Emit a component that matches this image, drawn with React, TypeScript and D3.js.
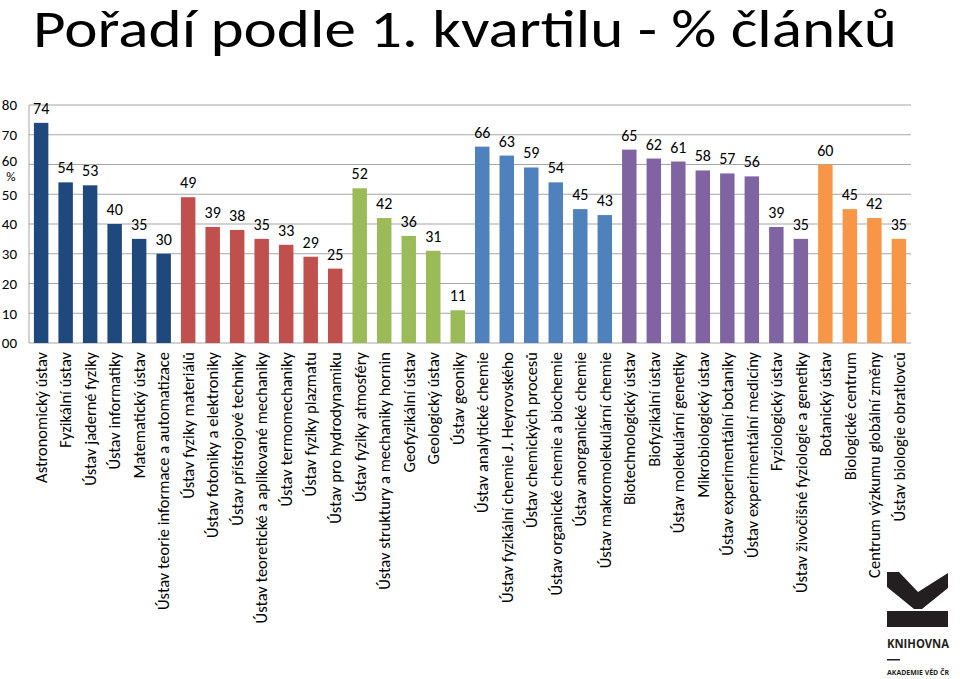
import React, { useEffect, useRef } from 'react';
import * as d3 from 'd3';

const categories = [
  'Astronomický ústav', 'Fyzikální ústav', 'Ústav jaderné fyziky', 'Ústav informatiky', 'Matematický ústav',
  'Ústav teorie informace a automatizace',
  'Ústav fyziky materiálů', 'Ústav fotoniky a elektroniky', 'Ústav přístrojové techniky',
  'Ústav teoretické a aplikované mechaniky', 'Ústav termomechaniky', 'Ústav fyziky plazmatu', 'Ústav pro hydrodynamiku',
  'Ústav fyziky atmosféry', 'Ústav struktury a mechaniky hornin', 'Geofyzikální ústav', 'Geologický ústav', 'Ústav geoniky',
  'Ústav analytické chemie', 'Ústav fyzikální chemie J. Heyrovského', 'Ústav chemických procesů',
  'Ústav organické chemie a biochemie', 'Ústav anorganické chemie', 'Ústav makromolekulární chemie',
  'Biotechnologický ústav', 'Biofyzikální ústav', 'Ústav molekulární genetiky', 'Mikrobiologický ústav',
  'Ústav experimentální botaniky', 'Ústav experimentální medicíny', 'Fyziologický ústav',
  'Ústav živočišné fyziologie a genetiky',
  'Botanický ústav', 'Biologické centrum', 'Centrum výzkumu globální změny', 'Ústav biologie obratlovců',
];
const values = [
  74, 54, 53, 40, 35, 30,
  49, 39, 38, 35, 33, 29, 25,
  52, 42, 36, 31, 11,
  66, 63, 59, 54, 45, 43,
  65, 62, 61, 58, 57, 56, 39, 35,
  60, 45, 42, 35,
];
// group index for each bar (section of the academy)
const groups = [
  0, 0, 0, 0, 0, 0,
  1, 1, 1, 1, 1, 1, 1,
  2, 2, 2, 2, 2,
  3, 3, 3, 3, 3, 3,
  4, 4, 4, 4, 4, 4, 4, 4,
  5, 5, 5, 5,
];
const groupColors = ['#1F497D', '#C0504D', '#9BBB59', '#4F81BD', '#8064A2', '#F79646'];
const yTicks = [0, 10, 20, 30, 40, 50, 60, 70, 80];
const yTickLabels = ['00', '10', '20', '30', '40', '50', '60', '70', '80'];

const FONT = "Carlito, Calibri, Lato, 'Open Sans', sans-serif";

const App = () => {
  const svgRef = useRef(null);

  useEffect(() => {
    const width = 960;
    const height = 679;
    const m = { left: 29, right: 49, top: 105, bottom: 336 };
    const svg = d3.select(svgRef.current);
    svg.selectAll('*').remove();

    const x = d3.scaleBand().domain(categories).range([m.left, width - m.right]).paddingInner(0.41).paddingOuter(0.2);
    const y = d3.scaleLinear().domain([0, 80]).range([height - m.bottom, m.top]);

    // title
    svg.append('text')
      .attr('x', 33)
      .attr('y', 47)
      .attr('textLength', 864)
      .attr('lengthAdjust', 'spacingAndGlyphs')
      .style('font-family', FONT)
      .style('font-size', '53px')
      .style('fill', '#000')
      .text('Pořadí podle 1. kvartilu - % článků');

    // grid
    svg.append('g')
      .selectAll('line')
      .data(yTicks)
      .enter()
      .append('line')
      .attr('x1', m.left)
      .attr('x2', width - m.right)
      .attr('y1', (d) => y(d))
      .attr('y2', (d) => y(d))
      .attr('stroke', '#A6A6A6')
      .attr('stroke-width', 1.2);

    svg.append('line')
      .attr('x1', m.left).attr('x2', m.left)
      .attr('y1', y(80)).attr('y2', y(0))
      .attr('stroke', '#A6A6A6')
      .attr('stroke-width', 1);

    // y labels
    svg.append('g')
      .selectAll('text')
      .data(yTicks)
      .enter()
      .append('text')
      .attr('x', 17)
      .attr('y', (d) => (d === 60 ? y(d) - 4 : y(d)))
      .attr('dy', '0.35em')
      .attr('text-anchor', 'end')
      .style('font-family', FONT)
      .style('font-size', '15px')
      .text((d, i) => yTickLabels[i]);

    svg.append('text')
      .attr('x', 11)
      .attr('y', y(60) + 12)
      .attr('dy', '0.35em')
      .attr('text-anchor', 'middle')
      .style('font-family', FONT)
      .style('font-size', '13px')
      .text('%');

    // bars
    svg.append('g')
      .selectAll('rect')
      .data(values)
      .enter()
      .append('rect')
      .attr('x', (d, i) => x(categories[i]))
      .attr('y', (d) => y(d))
      .attr('width', x.bandwidth())
      .attr('height', (d) => y(0) - y(d))
      .attr('fill', (d, i) => groupColors[groups[i]]);

    // value labels
    svg.append('g')
      .selectAll('text')
      .data(values)
      .enter()
      .append('text')
      .attr('x', (d, i) => x(categories[i]) + x.bandwidth() / 2)
      .attr('y', (d) => y(d) - 9)
      .attr('text-anchor', 'middle')
      .style('font-family', FONT)
      .style('font-size', '16px')
      .text((d) => d);

    // category labels
    svg.append('g')
      .selectAll('text')
      .data(categories)
      .enter()
      .append('text')
      .attr('transform', (d) => `translate(${x(d) + x.bandwidth() / 2},352) rotate(-90)`)
      .attr('dy', '0.35em')
      .attr('text-anchor', 'end')
      .style('font-family', FONT)
      .style('font-size', '16.5px')
      .text((d) => d);

    // logo
    const logo = svg.append('g');
    logo.append('path')
      .attr('d', 'M887,572 L899,572 L918,592 L948,573 L948,588 L922,609 L914,609 L887,587 Z')
      .attr('fill', '#231F20');
    logo.append('rect')
      .attr('x', 887).attr('y', 611).attr('width', 61).attr('height', 16)
      .attr('fill', '#231F20');
    logo.append('text')
      .attr('x', 887).attr('y', 648)
      .attr('textLength', 62)
      .attr('lengthAdjust', 'spacingAndGlyphs')
      .style('font-family', "'Open Sans', sans-serif")
      .style('font-weight', 700)
      .style('font-size', '13px')
      .style('fill', '#231F20')
      .text('KNIHOVNA');
    logo.append('rect')
      .attr('x', 887).attr('y', 659).attr('width', 13).attr('height', 1.5)
      .attr('fill', '#231F20');
    logo.append('text')
      .attr('x', 887).attr('y', 675)
      .attr('textLength', 62)
      .attr('lengthAdjust', 'spacingAndGlyphs')
      .style('font-family', "'Open Sans', sans-serif")
      .style('font-weight', 700)
      .style('font-size', '7px')
      .style('fill', '#231F20')
      .text('AKADEMIE VĚD ČR');
  }, []);

  return (
    <div style={{ position: 'absolute', left: 0, top: 0, width: 960, height: 679, background: '#fff' }}>
      <svg ref={svgRef} width={960} height={679}></svg>
    </div>
  );
};

export default App;
